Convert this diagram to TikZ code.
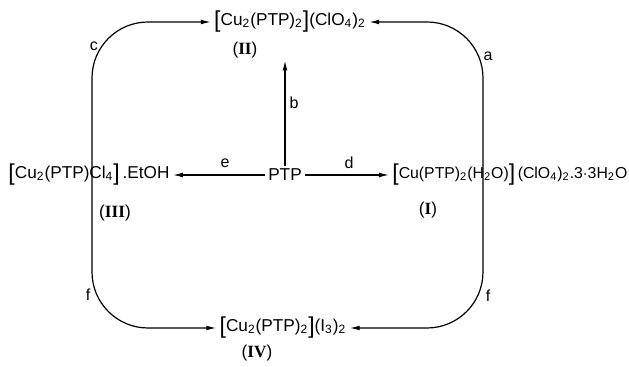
\documentclass[tikz,border=0pt]{standalone}
\usepackage{fontspec}
\setmainfont{Liberation Sans}
\newfontfamily\numfont{Liberation Serif}
\usepackage{tikz}
\usetikzlibrary{positioning, arrows.meta, calc}

\newcommand{\chsub}[1]{\textsubscript{#1}}
\newcommand{\cpdnum}[1]{{\numfont\bfseries #1}}
\newcommand{\lbrk}{\raisebox{-1.4pt}{\fontsize{11.5}{11.5}\selectfont[}}
\newcommand{\rbrk}{\raisebox{-1.4pt}{\fontsize{11.5}{11.5}\selectfont]}}

\begin{document}
\begin{tikzpicture}[
    x=0.5pt, y=-0.5pt,
    cmpd/.style={font=\fontsize{8.6}{10}\selectfont, inner sep=1.5pt},
    tag/.style={font=\fontsize{8.6}{10}\selectfont, inner sep=1pt},
    step lbl/.style={font=\fontsize{8}{9}\selectfont, inner sep=1pt},
    arr/.style={-{Latex[length=5pt, width=2.4pt]}, semithick},
    loop/.style={arr, rounded corners=28pt},
]
\useasboundingbox (0,0) rectangle (629,367);

% Compounds
\node[cmpd] (ptp) at (285, 175) {PTP};
\node[cmpd] (cuII) at (290, 22)
  {\lbrk Cu\chsub{2}(PTP)\chsub{2}\rbrk(ClO\chsub{4})\chsub{2}};
\node[tag] (lblII) at (245, 50) {(\cpdnum{II})};
\node[cmpd] (cuIII) at (89, 175)
  {\lbrk Cu\chsub{2}(PTP)Cl\chsub{4}\rbrk\,.EtOH};
\node[tag] at (115, 213) {(\cpdnum{III})};
\node[cmpd, anchor=west, font=\fontsize{7.9}{10}\selectfont] (cuI) at (389, 175)
  {\lbrk Cu(PTP)\chsub{2}(H\chsub{2}O)\rbrk\,(ClO\chsub{4})\chsub{2}.3$\cdot$3H\chsub{2}O};
\node[tag] at (428, 210) {(\cpdnum{I})};
\node[cmpd] (cuIV) at (283, 328)
  {\lbrk Cu\chsub{2}(PTP)\chsub{2}\rbrk(I\chsub{3})\chsub{2}};
\node[tag] at (257, 353) {(\cpdnum{IV})};

% Straight routes from PTP
\draw[arr] (ptp.west) -- (cuIII.east);
\draw[arr] (ptp.east) -- (cuI.west);
\draw[arr] (ptp.north) -- (ptp.north |- lblII.south);
\node[step lbl] at (225, 163) {e};
\node[step lbl] at (349, 163) {d};
\node[step lbl] at (294, 103) {b};

% Curved routes round the sides
\coordinate (lx) at (92, 175);
\coordinate (rx) at (483, 175);
\draw[loop] (lx) |- (cuII.west);
\draw[loop] (lx) |- (cuIV.west);
\draw[loop] (rx) |- (cuII.east);
\draw[loop] (rx) |- (cuIV.east);
\node[step lbl] at (94, 46) {c};
\node[step lbl] at (488, 56) {a};
\node[step lbl] at (88, 295) {f};
\node[step lbl] at (488, 296) {f};

\end{tikzpicture}
\end{document}
